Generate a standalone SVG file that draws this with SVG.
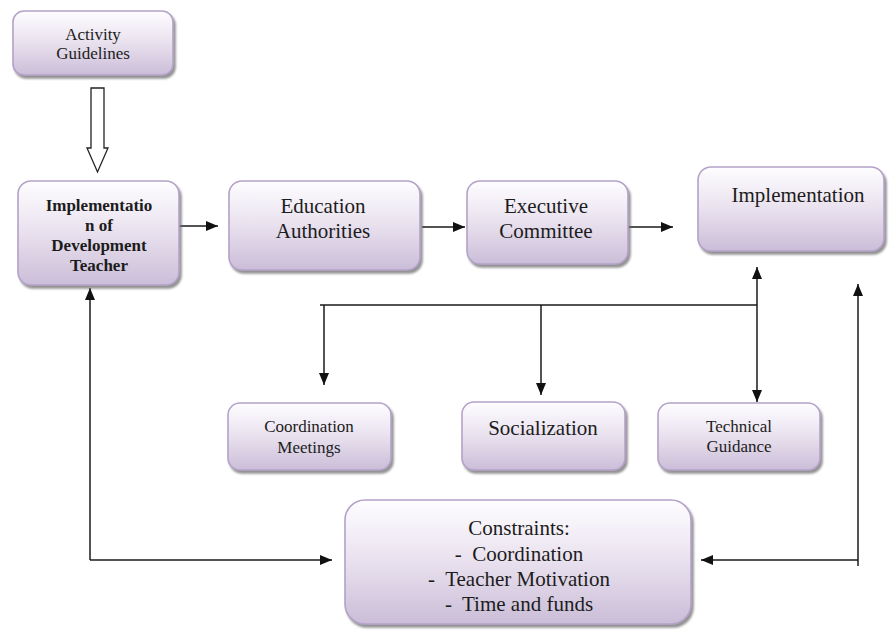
<svg xmlns="http://www.w3.org/2000/svg" width="889" height="631" viewBox="0 0 889 631">
  <defs>
    <linearGradient id="boxfill" x1="0" y1="0" x2="0" y2="1">
      <stop offset="0" stop-color="#fefdff"/>
      <stop offset="0.45" stop-color="#ebe4f0"/>
      <stop offset="1" stop-color="#cbbdd8"/>
    </linearGradient>
    <filter id="shadow" x="-10%" y="-10%" width="125%" height="130%">
      <feDropShadow dx="2" dy="3" stdDeviation="1.3" flood-color="#6e6e6e" flood-opacity="0.75"/>
    </filter>
    <marker id="arrow" markerUnits="userSpaceOnUse" markerWidth="12" markerHeight="10" refX="12" refY="5" orient="auto">
      <path d="M0,0 L12,5 L0,10 z" fill="#111"/>
    </marker>
  </defs>
  <style>
    .box { fill: url(#boxfill); stroke: #b4a2c8; stroke-width: 1.6; filter: url(#shadow); }
    text { font-family: 'Liberation Serif', 'DejaVu Serif', serif; fill: #1c1c1c; text-anchor: middle; }
    .s17 { font-size: 17px; }
    .s21 { font-size: 21px; }
    .b { font-weight: bold; }
    .c { fill: none; stroke: #1a1a1a; stroke-width: 1.5; }
    .ca { fill: none; stroke: #1a1a1a; stroke-width: 1.5; marker-end: url(#arrow); }
  </style>
  <rect width="889" height="631" fill="#ffffff"/>

  <g id="connectors">
    <path d="M91,88 H104 V148 H108 L97.5,172 L87,148 H91 Z" fill="#ffffff" stroke="#222" stroke-width="1.3"/>
    <path class="ca" d="M170,226 H218"/>
    <path class="ca" d="M422,227 H465"/>
    <path class="ca" d="M620,227 H673"/>
    <path class="c" d="M320,305 H757"/>
    <path class="ca" d="M757,305 V267"/>
    <path class="ca" d="M757,305 V402"/>
    <path class="ca" d="M324,305 V385"/>
    <path class="ca" d="M541,305 V395"/>
    <path class="ca" d="M90,560 V288"/>
    <path class="ca" d="M90,560 H332"/>
    <path class="ca" d="M858,566 V284"/>
    <path class="ca" d="M858,560 H701"/>
  </g>

  <g id="activity-guidelines">
    <rect class="box" x="13" y="11" width="160" height="64" rx="11"/>
    <text class="s17" x="93" y="40" font-family="Liberation Serif, serif">Activity</text>
    <text class="s17" x="93" y="59" font-family="Liberation Serif, serif">Guidelines</text>
  </g>

  <g id="implementation-development-teacher">
    <rect class="box" x="18" y="181" width="161" height="104" rx="13"/>
    <text class="s17 b" x="99" y="211" font-family="Liberation Serif, serif">Implementatio</text>
    <text class="s17 b" x="99" y="231" font-family="Liberation Serif, serif">n of</text>
    <text class="s17 b" x="99" y="251" font-family="Liberation Serif, serif">Development</text>
    <text class="s17 b" x="99" y="271" font-family="Liberation Serif, serif">Teacher</text>
  </g>

  <g id="education-authorities">
    <rect class="box" x="229" y="181" width="191" height="89" rx="13"/>
    <text class="s21" x="323" y="213" font-family="Liberation Serif, serif">Education</text>
    <text class="s21" x="323" y="238" font-family="Liberation Serif, serif">Authorities</text>
  </g>

  <g id="executive-committee">
    <rect class="box" x="467" y="181" width="161" height="83" rx="13"/>
    <text class="s21" x="546" y="213" font-family="Liberation Serif, serif">Executive</text>
    <text class="s21" x="546" y="238" font-family="Liberation Serif, serif">Committee</text>
  </g>

  <g id="implementation">
    <rect class="box" x="698" y="167" width="186" height="84" rx="13"/>
    <text class="s21" x="798" y="202" font-family="Liberation Serif, serif">Implementation</text>
  </g>

  <g id="coordination-meetings">
    <rect class="box" x="228" y="403" width="163" height="67" rx="12"/>
    <text class="s17" x="309" y="432" font-family="Liberation Serif, serif">Coordination</text>
    <text class="s17" x="309" y="453" font-family="Liberation Serif, serif">Meetings</text>
  </g>

  <g id="socialization">
    <rect class="box" x="462" y="402" width="163" height="68" rx="12"/>
    <text class="s21" x="543" y="435" font-family="Liberation Serif, serif">Socialization</text>
  </g>

  <g id="technical-guidance">
    <rect class="box" x="658" y="403" width="162" height="67" rx="12"/>
    <text class="s17" x="739" y="432" font-family="Liberation Serif, serif">Technical</text>
    <text class="s17" x="739" y="452" font-family="Liberation Serif, serif">Guidance</text>
  </g>

  <g id="constraints">
    <rect class="box" x="345" y="500" width="346" height="124" rx="20"/>
    <text class="s21" x="519" y="535" font-family="Liberation Serif, serif">Constraints:</text>
    <text class="s21" x="519" y="561" font-family="Liberation Serif, serif" xml:space="preserve">-  Coordination</text>
    <text class="s21" x="519" y="586" font-family="Liberation Serif, serif" xml:space="preserve">-  Teacher Motivation</text>
    <text class="s21" x="519" y="611" font-family="Liberation Serif, serif" xml:space="preserve">-  Time and funds</text>
  </g>
</svg>
